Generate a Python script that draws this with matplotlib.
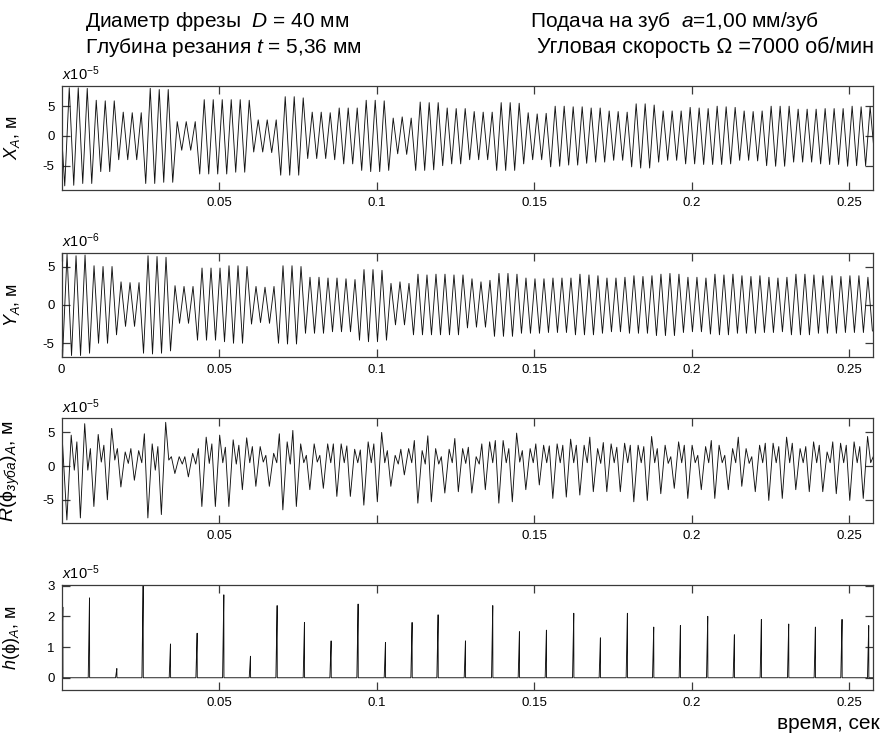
import numpy as np
import matplotlib
matplotlib.use("Agg")
import matplotlib.pyplot as plt

plt.rcParams['font.family'] = ['Liberation Sans', 'DejaVu Sans']
plt.rcParams['mathtext.fontset'] = 'custom'
plt.rcParams['mathtext.rm'] = 'Liberation Sans'
plt.rcParams['mathtext.it'] = 'Liberation Sans:italic'
plt.rcParams['mathtext.bf'] = 'Liberation Sans:bold'

# ---------------- data ----------------
RPM = 7000                      # angular speed, rev/min
T_REV = 60.0 / RPM              # one revolution, s
T_TOOTH = T_REV / 3             # main vibration period, s
T_R = T_REV / 2                 # period of R signal, s
T_END = 0.2577

# X_A  (units 1e-5 m): extreme values, one peak per tooth period
X_START = 0.0
X_FIRST_PEAK = 0.0024
X_PEAKS = [8.1, 8.1, 8.0, 6.0, 5.9, 5.9, 4.0, 3.9, 3.9, 8.0, 7.8, 7.8,
           2.4, 2.4, 2.4, 6.1, 6.1, 6.1, 6.1, 6.1, 6.0, 2.7, 2.7, 2.7,
           6.6, 6.6, 6.4, 4.0, 4.0, 3.9,
           4.7, 4.7, 4.7, 6.0, 6.0, 5.9, 3.0, 3.2, 3.0, 5.7, 5.6, 5.6,
           4.7, 4.6, 4.6, 4.1, 4.0, 4.0, 5.6, 5.6, 5.5, 3.9, 3.7, 3.8,
           5.0, 5.0, 4.9, 4.9, 4.7, 4.7,
           4.2, 4.1, 4.0, 5.4, 5.4, 5.2, 4.2, 4.2, 4.2, 4.8, 4.7, 4.6,
           5.0, 4.9, 4.8, 4.2, 4.1, 4.2, 5.0, 5.0, 5.0, 4.5, 4.5, 4.5,
           4.6, 4.6, 4.6, 5.0, 4.9, 4.9]
X_TROUGHS = [-8.4,
             -8.3, -8.0, -8.0, -6.0, -6.0, -4.0, -4.0, -4.0, -8.0, -8.0, -7.8, -7.8,
             -2.4, -2.4, -6.4, -6.4, -6.4, -6.4, -6.1, -6.1, -2.7, -2.7, -2.8, -6.6,
             -6.6, -6.6, -3.8, -3.8, -3.8, -4.0,
             -4.7, -4.7, -5.8, -6.0, -6.0, -5.8, -3.0, -3.1, -5.8, -5.8, -5.7, -5.0,
             -4.7, -4.7, -4.0, -4.0, -4.0, -5.8, -5.8, -5.8, -4.7, -4.0, -4.0, -5.2,
             -5.1, -4.9, -4.9, -4.6, -4.4, -4.4,
             -4.1, -4.1, -5.2, -5.4, -5.4, -4.4, -4.1, -4.1, -4.7, -4.7, -4.8, -4.8,
             -4.8, -4.7, -4.1, -4.1, -4.2, -5.0, -5.1, -5.1, -4.4, -4.4, -4.4, -4.7,
             -4.8, -4.8, -5.1, -5.0, -5.0, -3.5]

# Y_A  (units 1e-6 m)
Y_START = -1.3
Y_FIRST_PEAK = 0.0017
Y_PEAKS = [6.6, 6.4, 6.5, 5.1, 5.0, 5.0, 3.0, 2.9, 2.9, 6.4, 6.3, 6.2,
           2.5, 2.4, 2.4, 4.8, 4.8, 4.8, 5.1, 5.1, 5.0, 2.4, 2.3, 2.4,
           5.1, 5.1, 5.0, 3.6, 3.6, 3.5,
           3.5, 3.4, 3.3, 4.6, 4.6, 4.5, 2.8, 3.0, 2.8, 4.0, 3.9, 4.0,
           4.0, 3.9, 3.9, 3.4, 3.0, 3.2, 4.1, 4.1, 4.0, 3.5, 3.4, 3.4,
           3.5, 3.5, 3.5, 4.0, 3.9, 3.8,
           3.5, 3.5, 3.6, 3.8, 3.7, 3.8, 4.0, 4.1, 4.0, 3.6, 3.6, 3.5,
           4.0, 3.9, 4.0, 3.8, 3.7, 3.8, 3.6, 3.5, 3.6, 4.0, 4.0, 3.9,
           3.8, 3.8, 3.7, 3.8, 3.8, 3.6]
Y_TROUGHS = [-6.7,
             -6.6, -6.6, -6.3, -5.0, -5.0, -3.9, -2.8, -2.8, -6.3, -6.4, -6.3, -6.0,
             -2.4, -2.4, -4.6, -4.6, -4.6, -4.8, -5.0, -5.0, -2.5, -2.3, -2.4, -5.0,
             -5.1, -5.1, -3.7, -3.7, -3.7, -3.5,
             -3.5, -3.5, -4.6, -4.8, -4.8, -4.6, -2.6, -2.6, -3.9, -3.9, -3.9, -3.9,
             -3.9, -3.9, -3.0, -2.9, -2.9, -4.1, -4.1, -4.1, -3.7, -3.7, -3.7, -3.6,
             -3.6, -3.6, -3.9, -3.9, -3.9, -3.7,
             -3.5, -3.5, -3.7, -3.7, -3.7, -4.0, -4.0, -4.0, -3.6, -3.5, -3.5, -3.8,
             -3.9, -3.9, -3.7, -3.7, -3.7, -3.6, -3.6, -3.5, -3.9, -3.9, -3.9, -3.7,
             -3.7, -3.7, -3.6, -3.6, -3.6, -3.4]

# R(phi)_A (units 1e-5 m): per half revolution -> trough, first peak, dip, second peak
R_START = 5.5
R_FIRST_TROUGH = 0.00165
R_TROUGH = [-8.0, -7.7, -6.0, -5.0, -3.1, -2.1, -7.7, -7.2, -1.1, -1.6,
            -6.0, -6.0, -6.0, -3.5, -3.0, -3.0, -6.5, -6.0, -3.5, -3.3,
            -4.5, -4.5, -5.8, -5.3, -3.0, -1.3, -5.5, -5.3, -4.0, -3.8,
            -4.0, -3.5, -5.5, -5.3, -3.5, -2.8, -4.8, -4.6, -4.3, -3.8,
            -3.8, -3.8, -5.3, -5.1, -4.1, -3.3, -4.8, -3.5, -4.8, -3.5,
            -3.0, -3.8, -5.1, -4.8, -3.5, -3.8, -3.8, -4.1, -5.1, -4.8]
R_PEAK1 = [4.6, 6.3, 4.7, 5.6, 2.1, 2.3, 3.3, 6.5, 1.4, 1.9,
           4.3, 4.6, 3.9, 4.2, 2.9, 1.9, 3.6, 3.3, 3.3, 3.3,
           3.3, 2.5, 3.6, 5.0, 1.6, 2.6, 2.3, 2.6, 2.5, 2.6,
           1.4, 3.6, 3.8, 4.9, 2.6, 3.1, 3.3, 4.0, 3.1, 2.6,
           3.3, 3.4, 3.1, 4.4, 3.1, 3.6, 3.1, 2.9, 3.1, 2.6,
           2.6, 3.1, 3.4, 4.3, 2.6, 3.6, 2.1, 3.4, 3.6, 4.4]
R_DIP = [-0.6, -0.6, 0.6, 0.9, 0.4, 0.5, -0.6, 0.9, 0.3, 0.3,
         0.4, 0.5, 0.3, 0.5, 0.6, 0.5, 0.3, 0.5, 0.6, 0.5,
         0.5, 0.5, 0.5, 0.5, 0.3, 0.5, 0.3, 0.3, 0.5, 0.4,
         0.3, 0.5, 0.5, 0.6, 0.5, 0.5, 0.5, 0.5, 0.5, 0.4,
         0.5, 0.5, 0.5, 0.5, 0.4, 0.5, 0.5, 0.5, 0.5, 0.5,
         0.4, 0.5, 0.5, 0.5, 0.5, 0.5, 0.5, 0.5, 0.5, 0.5]
R_PEAK2 = [3.6, 2.6, 3.1, 2.6, 2.6, 4.8, 2.9, 1.4, 1.4, 2.6,
           3.3, 2.8, 3.1, 2.9, 1.6, 4.8, 5.3, 1.6, 1.6, 3.3,
           3.0, 2.4, 3.3, 2.3, 2.5, 3.8, 4.5, 1.4, 4.1, 2.8,
           3.3, 3.8, 2.6, 2.3, 3.3, 3.0, 3.1, 3.1, 4.3, 3.5,
           2.8, 3.1, 2.9, 2.6, 1.4, 3.1, 1.6, 3.8, 1.6, 4.3,
           1.4, 3.4, 2.9, 3.4, 2.9, 3.1, 3.6, 3.1, 2.9, 1.4]

# h(phi)_A (units 1e-5 m): cutting spikes, time (s) and height
H_TIMES = [0.00026, 0.00873, 0.01741, 0.02577, 0.03444, 0.04291, 0.05138, 0.05984,
           0.06831, 0.07698, 0.08545, 0.09402, 0.10270, 0.11116, 0.11942, 0.12810,
           0.13677, 0.14524, 0.15381, 0.16249, 0.17095, 0.17952, 0.18788, 0.19635,
           0.20503, 0.21349, 0.22206, 0.23074, 0.23921, 0.24767, 0.25614]
H_HEIGHTS = [2.3, 2.6, 0.3, 3.1, 1.1, 1.45, 2.7, 0.7, 2.35, 1.8, 1.2, 2.4, 1.15,
             1.8, 2.05, 1.2, 2.35, 1.5, 1.55, 2.1, 1.3, 2.1, 1.65, 1.7, 2.0, 1.4,
             1.9, 1.75, 1.65, 1.9, 1.7]

X_TICKS = [0.05, 0.1, 0.15, 0.2, 0.25]
X_TICKS_Y = [0, 0.05, 0.1, 0.15, 0.2, 0.25]
X_TICK_LABELS = ['0.05', '0.1', '0.15', '0.2', '0.25']
X_TICK_LABELS_Y = ['0', '0.05', '0.1', '0.15', '0.2', '0.25']
X_TICK_LABELS_R = ['0.05', '', '0.15', '0.2', '0.25']


# ---------------- helpers ----------------
def osc_series(start, troughs, peaks, t_first, period):
    peaks = np.asarray(peaks, float)
    troughs = np.asarray(troughs, float)
    n = len(peaks)
    tp = t_first + period * np.arange(n)
    tt = np.concatenate([[tp[0] - period / 2], tp + period / 2])
    t = np.empty(2 * n + 1)
    v = np.empty(2 * n + 1)
    t[0::2] = tt
    v[0::2] = troughs
    t[1::2] = tp
    v[1::2] = peaks
    return np.concatenate([[0.0], t]), np.concatenate([[start], v])


def r_series(start, tr, p1, dip, p2, t_first, period):
    tr, p1, dip, p2 = (np.asarray(a, float) for a in (tr, p1, dip, p2))
    t0 = t_first + period * np.arange(len(tr))
    t = np.column_stack([t0, t0 + 0.32 * period, t0 + 0.55 * period,
                         t0 + 0.74 * period]).ravel()
    v = np.column_stack([tr, p1, dip, p2]).ravel()
    return np.concatenate([[0.0], t]), np.concatenate([[start], v])


def h_series(times, heights):
    ts, vs = [0.0], [0.0]
    for t, h in zip(times, heights):
        ts += [max(t - 0.0003, 0), max(t - 0.00012, 0), t + 0.0001, t + 0.00014]
        vs += [0.0, 0.45 * h, h, 0.0]
    ts.append(T_END)
    vs.append(0.0)
    return np.array(ts), np.array(vs)


# ---------------- figure ----------------
fig = plt.figure(figsize=(8.85, 7.38), dpi=100)
rects = [[0.0697, 0.7425, 0.9171, 0.1410],
         [0.0697, 0.5167, 0.9171, 0.1409],
         [0.0697, 0.2909, 0.9171, 0.1423],
         [0.0697, 0.0650, 0.9171, 0.1423]]
axes = [fig.add_axes(r) for r in rects]

series = [osc_series(X_START, X_TROUGHS, X_PEAKS, X_FIRST_PEAK, T_TOOTH),
          osc_series(Y_START, Y_TROUGHS, Y_PEAKS, Y_FIRST_PEAK, T_TOOTH),
          r_series(R_START, R_TROUGH, R_PEAK1, R_DIP, R_PEAK2, R_FIRST_TROUGH, T_R),
          h_series(H_TIMES, H_HEIGHTS)]
ylims = [(-9.1, 8.4), (-6.75, 6.8), (-8.5, 7.1), (-0.4, 3.02)]
yticks = [[-5, 0, 5], [-5, 0, 5], [-5, 0, 5], [0, 1, 2, 3]]
xt = [(X_TICKS, X_TICK_LABELS), (X_TICKS_Y, X_TICK_LABELS_Y),
      (X_TICKS, X_TICK_LABELS_R), (X_TICKS, X_TICK_LABELS)]
mult = [r'$\mathit{x}10^{-5}$', r'$\mathit{x}10^{-6}$', r'$\mathit{x}10^{-5}$',
        r'$\mathit{x}10^{-5}$']
ylabels = [r'$X_A$, м', r'$Y_A$, м', r'$R(\mathrm{\phi}_{зуба})_A$, м',
           r'$h(\mathrm{\phi})_A$, м']
ylab_sizes = [13, 13, 14, 13]

frame = '#3a3a3a'
for ax, (t, v), yl, ytk, (xtk, xtl), m, lab, fs in zip(
        axes, series, ylims, yticks, xt, mult, ylabels, ylab_sizes):
    ax.plot(t, v, color='#111111', lw=0.65)
    ax.set_xlim(0, T_END)
    ax.set_ylim(*yl)
    ax.set_yticks(ytk)
    ax.set_yticklabels([('-' + str(abs(k))) if k < 0 else str(k) for k in ytk])
    ax.set_xticks(xtk)
    ax.set_xticklabels(xtl)
    ax.tick_params(direction='in', length=6, width=0.9, color=frame,
                   top=True, right=True, labelsize=9.5, pad=5)
    for s in ax.spines.values():
        s.set_color(frame)
        s.set_linewidth(0.9)
    ax.text(0.0, 1.025, m, transform=ax.transAxes, ha='left', va='bottom',
            fontsize=10.5)
    ax.set_ylabel(lab, fontsize=fs)
    ax.yaxis.set_label_coords(-0.049, 0.5)

# header
fig.text(0.096, 0.963, r'Диаметр фрезы  $\mathit{D}$ = 40 мм', fontsize=15)
fig.text(0.096, 0.928, r'Глубина резания $\mathit{t}$ = 5,36 мм', fontsize=15)
fig.text(0.599, 0.963, r'Подача на зуб  $\mathit{a}$=1,00 мм/зуб', fontsize=15)
fig.text(0.607, 0.928, 'Угловая скорость Ω =7000 об/мин', fontsize=15.5)
fig.text(0.994, 0.012, 'время, сек', fontsize=15, ha='right')

fig.savefig('out.png', dpi=100)
